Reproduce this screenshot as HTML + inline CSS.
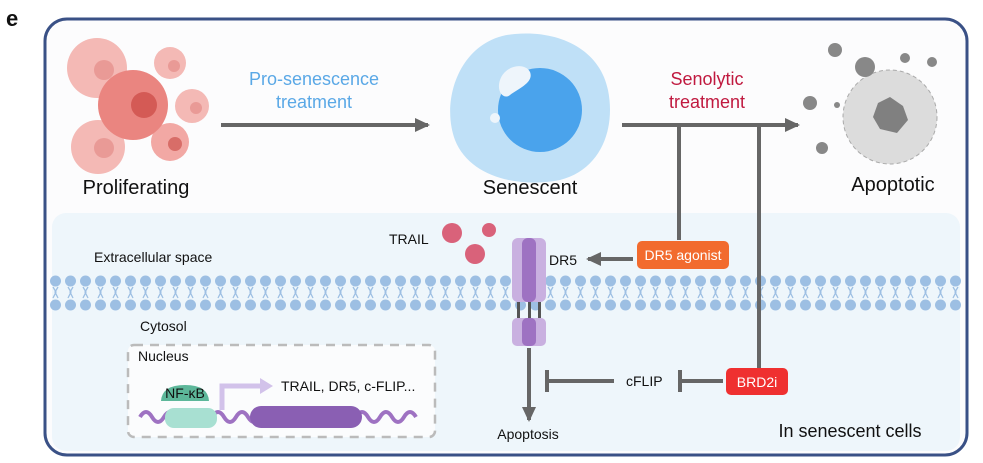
<!DOCTYPE html>
<html><head><meta charset="utf-8"><style>
body{margin:0;background:#fff}
svg{display:block}
text{font-family:"Liberation Sans",sans-serif}
</style></head><body>
<svg width="983" height="463" viewBox="0 0 983 463" xmlns="http://www.w3.org/2000/svg">
<defs>
<marker id="ah" markerWidth="16" markerHeight="16" refX="13" refY="7" orient="auto" markerUnits="userSpaceOnUse"><path d="M0,0 L15,7 L0,14 Z" fill="#666"/></marker>
<pattern id="mem" x="48" y="0" width="15" height="463" patternUnits="userSpaceOnUse">
<circle cx="7.5" cy="281" r="5.5" fill="#9dbfe3"/>
<circle cx="7.5" cy="305" r="5.5" fill="#9dbfe3"/>
<path d="M5,287 L8,292 L5,298 M10,287 L7,292 L10,298" stroke="#9dbfe3" stroke-width="1.3" fill="none"/>
</pattern>
</defs>
<rect width="983" height="463" fill="#fff"/>
<text x="6" y="26" font-size="22" font-weight="bold" fill="#111">e</text>
<rect x="45" y="19" width="922" height="436" rx="22" fill="#fcfcfd" stroke="#3a5186" stroke-width="3"/>
<rect x="52" y="213" width="908" height="238" rx="14" fill="#eef6fb"/>
<rect x="48" y="274" width="916" height="38" fill="url(#mem)"/>
<!-- proliferating -->
<circle cx="97" cy="68" r="30" fill="#f4b9b5"/>
<circle cx="98" cy="147" r="27" fill="#f4b9b5"/>
<circle cx="170" cy="63" r="16" fill="#f4b9b5"/>
<circle cx="192" cy="106" r="17" fill="#f4b9b5"/>
<circle cx="170" cy="142" r="19" fill="#f2a8a4"/>
<circle cx="133" cy="105" r="35" fill="#ea8580"/>
<circle cx="144" cy="105" r="13" fill="#d45a55"/>
<circle cx="104" cy="70" r="10" fill="#e99a96"/>
<circle cx="104" cy="148" r="10" fill="#e99a96"/>
<circle cx="174" cy="66" r="6" fill="#e99a96"/>
<circle cx="196" cy="108" r="6" fill="#e99a96"/>
<circle cx="175" cy="144" r="7" fill="#d86d68"/>
<text x="136" y="194" font-size="20" text-anchor="middle" fill="#111">Proliferating</text>
<!-- arrow 1 -->
<text x="314" y="85" font-size="18" text-anchor="middle" fill="#5aa8e6">Pro-senescence</text>
<text x="314" y="108" font-size="18" text-anchor="middle" fill="#5aa8e6">treatment</text>
<line x1="221" y1="125" x2="428" y2="125" stroke="#666" stroke-width="4" marker-end="url(#ah)"/>
<!-- senescent -->
<path d="M515,34 C560,30 600,50 608,90 C616,130 600,170 560,180 C520,188 470,178 455,140 C440,100 460,38 515,34 Z" fill="#bfe0f7"/>
<circle cx="540" cy="110" r="42" fill="#4aa3ec"/>
<path d="M500,80 C505,65 525,62 530,72 C534,82 520,88 510,95 C504,100 496,92 500,80 Z" fill="#eef5fb"/>
<circle cx="495" cy="118" r="5" fill="#eef5fb"/>
<text x="530" y="194" font-size="20" text-anchor="middle" fill="#111">Senescent</text>
<!-- senolytic -->
<text x="707" y="85" font-size="18" text-anchor="middle" fill="#c0193f">Senolytic</text>
<text x="707" y="108" font-size="18" text-anchor="middle" fill="#c0193f">treatment</text>
<line x1="622" y1="125" x2="798" y2="125" stroke="#666" stroke-width="4" marker-end="url(#ah)"/>
<line x1="679" y1="125" x2="679" y2="240" stroke="#666" stroke-width="4"/>
<line x1="759" y1="125" x2="759" y2="368" stroke="#666" stroke-width="4"/>
<!-- apoptotic -->
<circle cx="890" cy="117" r="47" fill="#dcdcdc" stroke="#aaa" stroke-dasharray="4 3"/>
<path d="M878,103 L890,97 L903,106 L908,120 L897,133 L880,129 L873,117 Z" fill="#808080"/>
<circle cx="835" cy="50" r="7" fill="#888"/><circle cx="865" cy="67" r="10" fill="#888"/>
<circle cx="905" cy="58" r="5" fill="#888"/><circle cx="932" cy="62" r="5" fill="#888"/>
<circle cx="810" cy="103" r="7" fill="#888"/><circle cx="822" cy="148" r="6" fill="#888"/>
<circle cx="837" cy="105" r="3" fill="#888"/>
<text x="893" y="191" font-size="20" text-anchor="middle" fill="#111">Apoptotic</text>
<!-- lower -->
<text x="94" y="262" font-size="14" fill="#111">Extracellular space</text>
<text x="140" y="331" font-size="14" fill="#111">Cytosol</text>
<text x="389" y="244" font-size="14" fill="#111">TRAIL</text>
<circle cx="452" cy="233" r="10" fill="#d9627a"/>
<circle cx="475" cy="254" r="10" fill="#d9627a"/>
<circle cx="489" cy="230" r="7" fill="#d9627a"/>
<!-- receptor -->
<rect x="512" y="238" width="34" height="64" rx="6" fill="#c9b0e0"/>
<rect x="522" y="238" width="14" height="64" rx="6" fill="#9e72c2"/>
<rect x="517" y="302" width="3" height="16" fill="#555"/><rect x="528" y="302" width="3" height="16" fill="#555"/><rect x="538" y="302" width="3" height="16" fill="#555"/>
<rect x="512" y="318" width="34" height="28" rx="5" fill="#c9b0e0"/>
<rect x="522" y="318" width="14" height="28" rx="5" fill="#9e72c2"/>
<text x="549" y="265" font-size="14" fill="#111">DR5</text>
<line x1="633" y1="259" x2="588" y2="259" stroke="#666" stroke-width="4" marker-end="url(#ah)"/>
<rect x="637" y="241" width="92" height="28" rx="5" fill="#f26b2e"/>
<text x="683" y="260" font-size="14" text-anchor="middle" fill="#fff">DR5 agonist</text>
<line x1="529" y1="348" x2="529" y2="420" stroke="#666" stroke-width="4" marker-end="url(#ah)"/>
<text x="528" y="439" font-size="14" text-anchor="middle" fill="#111">Apoptosis</text>
<line x1="614" y1="381" x2="547" y2="381" stroke="#666" stroke-width="4"/>
<line x1="547" y1="370" x2="547" y2="392" stroke="#666" stroke-width="4"/>
<text x="626" y="386" font-size="14" fill="#111">cFLIP</text>
<line x1="723" y1="381" x2="680" y2="381" stroke="#666" stroke-width="4"/>
<line x1="680" y1="370" x2="680" y2="392" stroke="#666" stroke-width="4"/>
<rect x="726" y="368" width="62" height="27" rx="5" fill="#ef3030"/>
<text x="757" y="387" font-size="14" text-anchor="middle" fill="#fff">BRD2i</text>
<text x="850" y="437" font-size="18" text-anchor="middle" fill="#111">In senescent cells</text>
<!-- nucleus -->
<rect x="128" y="345" width="307" height="92" rx="6" fill="#fbfcfd" stroke="#bbb" stroke-width="2.5" stroke-dasharray="9 7"/>
<text x="138" y="361" font-size="14" fill="#111">Nucleus</text>
<path d="M140,417 Q146,407 152,417 T164,417 T176,417 T188,417 T200,417 T212,417 T224,417 T236,417 T248,417 T260,417 T272,417 T284,417 T296,417 T308,417 T320,417 T332,417 T344,417 T356,417 T368,417 T380,417 T392,417 T404,417 T416,417" stroke="#9e72c2" stroke-width="4" fill="none"/>
<rect x="165" y="408" width="52" height="20" rx="9" fill="#a8e0d2"/>
<rect x="250" y="406" width="112" height="22" rx="11" fill="#8a5fb3"/>
<path d="M161,401 Q162,385 185,385 Q208,385 209,401 Z" fill="#5db79a"/>
<text x="185" y="398" font-size="14" text-anchor="middle" fill="#111">NF-κB</text>
<path d="M222,410 L222,386 L262,386" stroke="#d2c2ea" stroke-width="5" fill="none"/>
<path d="M260,378 L273,386 L260,394 Z" fill="#d2c2ea"/>
<text x="281" y="391" font-size="14" fill="#111">TRAIL, DR5, c-FLIP...</text>
</svg>
</body></html>
